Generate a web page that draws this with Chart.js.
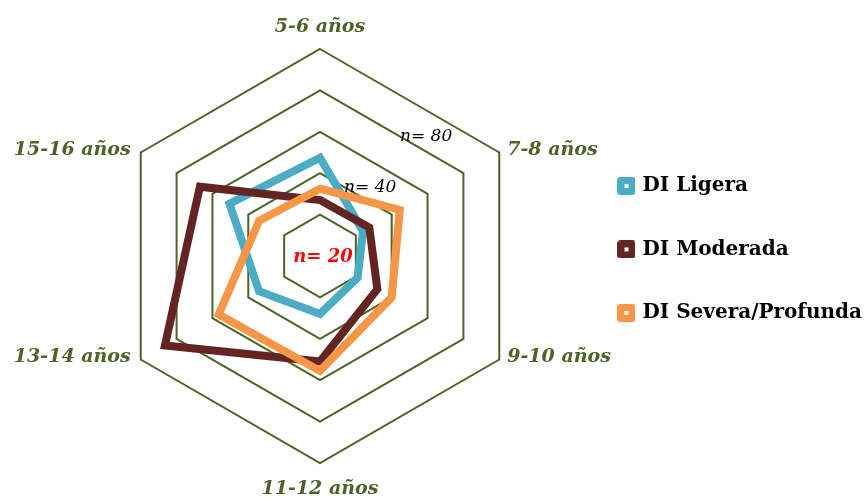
<!DOCTYPE html>
<html>
<head>
<meta charset="utf-8">
<script src="https://cdn.jsdelivr.net/npm/chart.js@4.4.1/dist/chart.umd.min.js"></script>
<style>
  html, body { margin: 0; padding: 0; background: #fff; }
  #wrap { width: 864px; height: 498px; }
</style>
</head>
<body>
<div id="wrap"><canvas id="radarChart" width="864" height="498"></canvas></div>
<script>
// datos
const categorias = ["5-6 años", "7-8 años", "9-10 años", "11-12 años", "13-14 años", "15-16 años"];
const series = ["DI Ligera", "DI Moderada", "DI Severa/Profunda"];
const ligera = [47.5, 24, 21, 28, 34, 50.5];
const moderada = [27, 27.5, 32, 51, 86.5, 67];
const severa = [32.5, 44.5, 40, 55.5, 56.5, 34];
const notasValores = [20, 40, 80];
const notasTextos = ["n= 20", "n= 40", "n= 80"];
const escalaMax = 100;
const escalaPaso = 20;

const colores = ["#4BACC6", "#632523", "#F79646"];
const verde = "#4F6228";

// marcador de la leyenda: cuadrado redondeado con punto blanco
function marcador(color) {
  const c = document.createElement("canvas");
  c.width = 18;
  c.height = 18;
  const g = c.getContext("2d");
  g.fillStyle = color;
  g.beginPath();
  g.roundRect(0, 0, 18, 18, 3);
  g.fill();
  g.fillStyle = "#fff";
  g.fillRect(7, 7, 4, 4);
  return c;
}

const etiquetasEjes = {
  id: "etiquetasEjes",
  afterDraw(chart) {
    const scale = chart.scales.r;
    const ctx = chart.ctx;
    ctx.save();
    ctx.textBaseline = "middle";

    // nombres de los ejes
    ctx.font = "italic bold 19px 'DejaVu Serif'";
    ctx.fillStyle = verde;
    chart.data.labels.forEach((txt, i) => {
      const p = scale.getPointPositionForValue(i, scale.max);
      const dx = p.x - scale.xCenter;
      let x = p.x, y = p.y;
      if (Math.abs(dx) < 1) {
        ctx.textAlign = "center";
        y += p.y < scale.yCenter ? -22 : 26;
      } else {
        ctx.textAlign = dx > 0 ? "left" : "right";
        x += dx > 0 ? 8 : -10;
        y -= 2;
      }
      ctx.fillText(txt, x, y);
    });

    // notas n=
    ctx.textAlign = "center";
    notasValores.forEach((v, k) => {
      if (k === 0) {
        ctx.font = "italic bold 18px 'DejaVu Serif'";
        ctx.fillStyle = "#FF0000";
        ctx.fillText(notasTextos[k], scale.xCenter + 3, scale.yCenter + 1);
        return;
      }
      const a = scale.getPointPositionForValue(0, v);
      const b = scale.getPointPositionForValue(1, v);
      const t = k === 1 ? 0.7 : 0.74;
      ctx.font = "italic 17px 'DejaVu Serif'";
      ctx.fillStyle = "#000";
      ctx.fillText(notasTextos[k], a.x + (b.x - a.x) * t, a.y + (b.y - a.y) * t - 15);
    });
    ctx.restore();
  }
};

const valores = [ligera, moderada, severa];

new Chart(document.getElementById("radarChart"), {
  type: "radar",
  data: {
    labels: categorias,
    datasets: series.map((nombre, i) => ({
      label: nombre,
      data: valores[i],
      borderColor: colores[i],
      backgroundColor: colores[i],
      borderWidth: 8,
      fill: false,
      pointRadius: 0,
      pointHoverRadius: 0,
      order: 3 - i
    }))
  },
  options: {
    responsive: false,
    animation: false,
    layout: { padding: { left: 65, right: -8, top: 49, bottom: 34 } },
    scales: {
      r: {
        min: 0,
        max: escalaMax,
        ticks: { display: false, stepSize: escalaPaso },
        grid: { color: verde, lineWidth: 2 },
        angleLines: { display: false },
        pointLabels: { display: false }
      }
    },
    plugins: {
      tooltip: { enabled: false },
      legend: {
        position: "right",
        align: "start",
        title: { display: true, text: "", padding: { top: 0, bottom: 69 } },
        labels: {
          usePointStyle: true,
          pointStyleWidth: 12,
          boxHeight: 18,
          padding: 43.5,
          color: "#000",
          font: { family: "'DejaVu Serif'", size: 20, weight: "bold" },
          generateLabels(chart) {
            const base = Chart.defaults.plugins.legend.labels.generateLabels(chart);
            return base
              .sort((a, b) => a.datasetIndex - b.datasetIndex)
              .map(it => ({ ...it, pointStyle: marcador(colores[it.datasetIndex]), lineWidth: 0 }));
          }
        }
      }
    }
  },
  plugins: [etiquetasEjes]
});
</script>
</body>
</html>
